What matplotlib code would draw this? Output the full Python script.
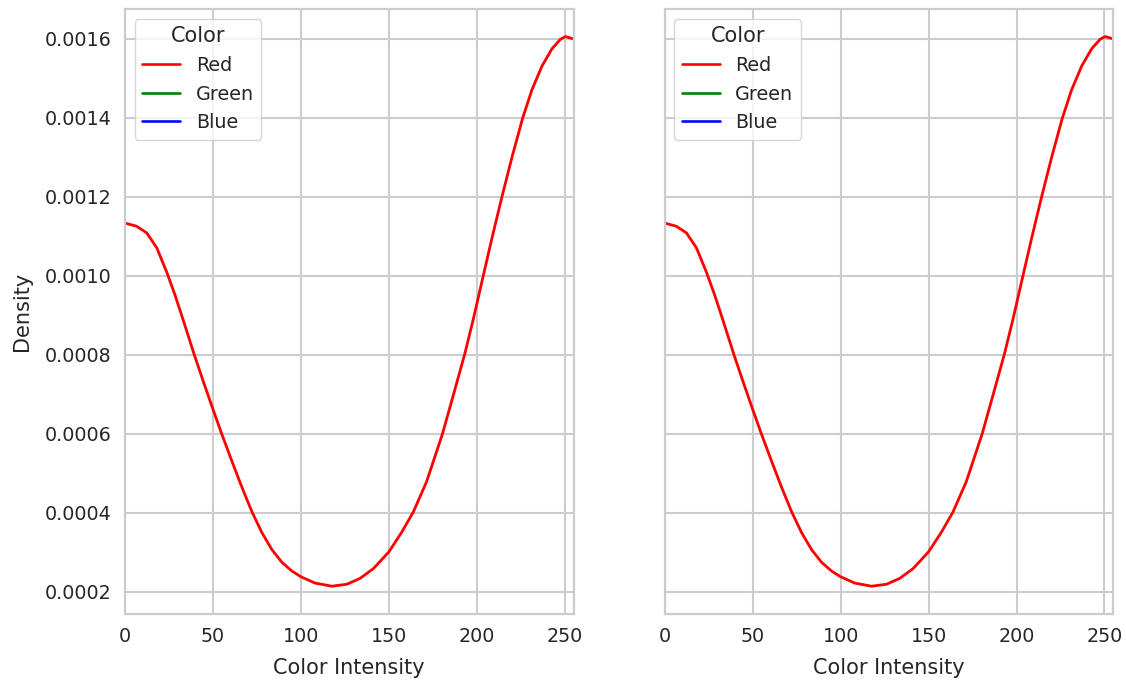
import matplotlib
matplotlib.use("Agg")
import matplotlib.pyplot as plt
from matplotlib.lines import Line2D
import seaborn as sns

# density curve (same curve in both panels)
intensity = [0, 6.6, 12.4, 18.1, 23.8, 28.5, 33.2, 39.3, 44.6, 50, 54.7, 60.8,
             66.5, 72.2, 77.9, 83.6, 89.3, 95, 100, 108, 117.6, 126.1, 133.7,
             141.3, 150, 157.2, 163.8, 171.4, 180.5, 186.6, 193.2, 198, 202.9,
             208.6, 214.3, 220, 226, 231.3, 237, 242.7, 247.5, 250.4, 254.2]
density = [0.001133, 0.001125, 0.001108, 0.001070, 0.001008, 0.000950, 0.000886,
           0.000801, 0.000731, 0.000662, 0.000603, 0.000530, 0.000464, 0.000402,
           0.000349, 0.000306, 0.000274, 0.000252, 0.000238, 0.000222, 0.000214,
           0.000219, 0.000234, 0.000259, 0.000301, 0.000350, 0.000401, 0.000478,
           0.000600, 0.000697, 0.000803, 0.000890, 0.000985, 0.001095, 0.001200,
           0.001300, 0.001398, 0.001470, 0.001530, 0.001574, 0.001598, 0.001605,
           0.001600]

color_names = ["Red", "Green", "Blue"]
line_colors = ["red", "green", "blue"]

sns.set_theme(style="whitegrid", context="notebook", font_scale=1.25,
              rc={"grid.linewidth": 1.5, "axes.linewidth": 1.6})

fig, axes = plt.subplots(1, 2, figsize=(11.26, 6.82), dpi=100, sharey=True)
fig.subplots_adjust(left=0.111, right=0.9887, top=0.9864, bottom=0.0993, wspace=0.203)

for ax in axes:
    ax.plot(intensity, density, color="red", linewidth=2, solid_joinstyle="round")
    ax.set_xlim(0, 255)
    ax.set_ylim(0.000143, 0.001674)
    ax.set_xlabel("Color Intensity", labelpad=8)
    handles = [Line2D([], [], color=c, linewidth=1.875) for c in line_colors]
    ax.legend(handles, color_names, title="Color", loc="upper left")

axes[0].set_ylabel("Density", labelpad=9)

fig.savefig("out.png", dpi=100)
